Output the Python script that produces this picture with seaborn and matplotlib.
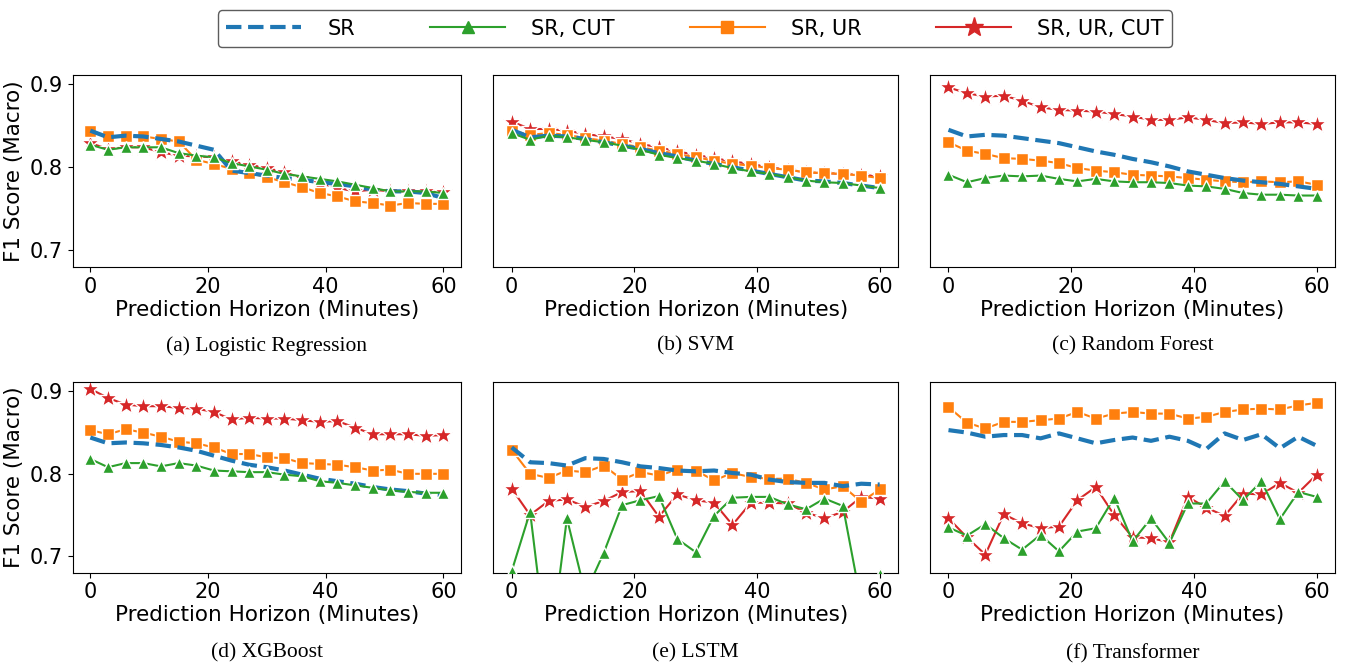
import numpy as np
import pandas as pd
import seaborn as sns
import matplotlib
matplotlib.use("Agg")
import matplotlib.pyplot as plt
from matplotlib.lines import Line2D

# prediction horizon in minutes
horizon = [0, 3, 6, 9, 12, 15, 18, 21, 24, 27, 30, 33, 36, 39, 42, 45, 48, 51, 54, 57, 60]

series_names = ["SR", "SR, CUT", "SR, UR", "SR, UR, CUT"]
model_names = ["(a) Logistic Regression", "(b) SVM", "(c) Random Forest",
               "(d) XGBoost", "(e) LSTM", "(f) Transformer"]

# (a) Logistic Regression
lr_sr = [0.844, 0.836, 0.838, 0.837, 0.834, 0.831, 0.826, 0.821, 0.796, 0.793, 0.790,
         0.787, 0.785, 0.782, 0.780, 0.777, 0.773, 0.771, 0.771, 0.769, 0.763]
lr_sr_cut = [0.827, 0.821, 0.824, 0.824, 0.824, 0.817, 0.814, 0.812, 0.805, 0.801, 0.797,
             0.792, 0.789, 0.786, 0.783, 0.779, 0.775, 0.771, 0.771, 0.771, 0.769]
lr_sr_ur = [0.844, 0.837, 0.838, 0.837, 0.834, 0.831, 0.809, 0.804, 0.798, 0.793, 0.788,
            0.782, 0.776, 0.769, 0.765, 0.759, 0.757, 0.754, 0.757, 0.756, 0.756]
lr_sr_ur_cut = [0.829, 0.822, 0.824, 0.824, 0.818, 0.814, 0.813, 0.812, 0.807, 0.803, 0.799,
                0.794, 0.787, 0.781, 0.775, 0.771, 0.773, 0.771, 0.771, 0.771, 0.770]

# (b) SVM
svm_sr = [0.845, 0.836, 0.838, 0.837, 0.834, 0.830, 0.826, 0.822, 0.817, 0.813, 0.808,
          0.804, 0.800, 0.796, 0.792, 0.788, 0.784, 0.783, 0.781, 0.778, 0.775]
svm_sr_cut = [0.841, 0.833, 0.838, 0.836, 0.833, 0.830, 0.826, 0.821, 0.815, 0.811, 0.808,
              0.804, 0.799, 0.795, 0.792, 0.788, 0.784, 0.782, 0.781, 0.778, 0.775]
svm_sr_ur = [0.844, 0.839, 0.841, 0.839, 0.835, 0.832, 0.828, 0.824, 0.820, 0.816, 0.812,
             0.808, 0.804, 0.802, 0.799, 0.797, 0.794, 0.793, 0.792, 0.790, 0.787]
svm_sr_ur_cut = [0.855, 0.846, 0.846, 0.844, 0.840, 0.837, 0.834, 0.828, 0.824, 0.819, 0.815,
                 0.811, 0.807, 0.804, 0.800, 0.797, 0.794, 0.793, 0.792, 0.791, 0.789]

# (c) Random Forest
rf_sr = [0.845, 0.837, 0.839, 0.838, 0.835, 0.832, 0.829, 0.824, 0.819, 0.815, 0.810,
         0.806, 0.801, 0.795, 0.791, 0.787, 0.784, 0.782, 0.780, 0.777, 0.774]
rf_sr_cut = [0.791, 0.782, 0.787, 0.790, 0.789, 0.790, 0.786, 0.783, 0.786, 0.783, 0.782,
             0.782, 0.781, 0.778, 0.777, 0.774, 0.769, 0.767, 0.767, 0.766, 0.766]
rf_sr_ur = [0.830, 0.820, 0.816, 0.811, 0.810, 0.808, 0.805, 0.799, 0.796, 0.794, 0.791,
            0.790, 0.789, 0.787, 0.785, 0.783, 0.782, 0.783, 0.782, 0.783, 0.779]
rf_sr_ur_cut = [0.896, 0.889, 0.885, 0.886, 0.880, 0.872, 0.869, 0.868, 0.867, 0.864, 0.861,
                0.857, 0.857, 0.860, 0.857, 0.853, 0.854, 0.852, 0.854, 0.854, 0.852]

# (d) XGBoost
xgb_sr = [0.844, 0.837, 0.838, 0.837, 0.835, 0.832, 0.828, 0.822, 0.816, 0.811, 0.808,
          0.804, 0.799, 0.794, 0.791, 0.788, 0.784, 0.781, 0.779, 0.776, 0.774]
xgb_sr_cut = [0.818, 0.808, 0.813, 0.813, 0.809, 0.813, 0.810, 0.804, 0.803, 0.802, 0.802,
              0.799, 0.797, 0.791, 0.789, 0.786, 0.783, 0.780, 0.778, 0.777, 0.777]
xgb_sr_ur = [0.853, 0.848, 0.854, 0.850, 0.845, 0.839, 0.837, 0.832, 0.824, 0.824, 0.820,
             0.819, 0.813, 0.812, 0.811, 0.808, 0.804, 0.805, 0.800, 0.800, 0.800]
xgb_sr_ur_cut = [0.903, 0.892, 0.884, 0.882, 0.882, 0.880, 0.879, 0.875, 0.866, 0.868, 0.867,
                 0.867, 0.865, 0.863, 0.864, 0.856, 0.848, 0.848, 0.848, 0.846, 0.847]

# (e) LSTM
lstm_sr = [0.832, 0.814, 0.813, 0.810, 0.819, 0.818, 0.814, 0.809, 0.807, 0.804, 0.803,
           0.804, 0.801, 0.799, 0.793, 0.790, 0.789, 0.789, 0.785, 0.788, 0.787]
lstm_sr_cut = [0.682, 0.754, 0.570, 0.746, 0.655, 0.704, 0.762, 0.768, 0.773, 0.721, 0.705,
               0.749, 0.771, 0.772, 0.772, 0.763, 0.757, 0.770, 0.761, 0.643, 0.678]
lstm_sr_ur = [0.829, 0.800, 0.795, 0.804, 0.802, 0.810, 0.793, 0.802, 0.798, 0.805, 0.804,
              0.792, 0.801, 0.796, 0.794, 0.794, 0.789, 0.781, 0.785, 0.766, 0.781]
lstm_sr_ur_cut = [0.782, 0.750, 0.767, 0.769, 0.760, 0.767, 0.778, 0.779, 0.748, 0.775, 0.768,
                  0.765, 0.738, 0.765, 0.765, 0.764, 0.753, 0.746, 0.754, 0.772, 0.770]

# (f) Transformer
tf_sr = [0.853, 0.850, 0.845, 0.847, 0.847, 0.843, 0.849, 0.843, 0.837, 0.841, 0.844,
         0.840, 0.845, 0.840, 0.830, 0.849, 0.841, 0.848, 0.831, 0.845, 0.834]
tf_sr_cut = [0.735, 0.725, 0.739, 0.722, 0.708, 0.726, 0.706, 0.730, 0.734, 0.771, 0.718,
             0.746, 0.716, 0.764, 0.764, 0.791, 0.768, 0.791, 0.745, 0.778, 0.772]
tf_sr_ur = [0.881, 0.862, 0.855, 0.863, 0.863, 0.865, 0.867, 0.875, 0.867, 0.873, 0.875,
            0.873, 0.873, 0.867, 0.869, 0.875, 0.878, 0.879, 0.878, 0.883, 0.886]
tf_sr_ur_cut = [0.746, 0.723, 0.702, 0.751, 0.740, 0.734, 0.736, 0.768, 0.784, 0.750, 0.723,
                0.722, 0.717, 0.772, 0.759, 0.749, 0.776, 0.775, 0.789, 0.777, 0.799]

panels = [
    [lr_sr, lr_sr_cut, lr_sr_ur, lr_sr_ur_cut],
    [svm_sr, svm_sr_cut, svm_sr_ur, svm_sr_ur_cut],
    [rf_sr, rf_sr_cut, rf_sr_ur, rf_sr_ur_cut],
    [xgb_sr, xgb_sr_cut, xgb_sr_ur, xgb_sr_ur_cut],
    [lstm_sr, lstm_sr_cut, lstm_sr_ur, lstm_sr_ur_cut],
    [tf_sr, tf_sr_cut, tf_sr_ur, tf_sr_ur_cut],
]

# style per series: color, marker, markersize, linestyle, linewidth, zorder
styles = {
    "SR": dict(color="#1f77b4", marker=None, ms=0, ls="--", lw=3.0, z=4),
    "SR, CUT": dict(color="#2ca02c", marker="^", ms=9, ls="-", lw=1.5, z=5),
    "SR, UR": dict(color="#ff7f0e", marker="s", ms=9, ls="-", lw=1.5, z=3),
    "SR, UR, CUT": dict(color="#d62728", marker="*", ms=14, ls="-", lw=1.5, z=2),
}

fig = plt.figure(figsize=(13.46, 6.66), dpi=100)

# axes boxes in figure fractions [left, bottom, width, height]
boxes = [
    [0.054, 0.599, 0.2885, 0.2885],
    [0.3665, 0.599, 0.3007, 0.2885],
    [0.691, 0.599, 0.3009, 0.2885],
    [0.054, 0.140, 0.2885, 0.286],
    [0.3665, 0.140, 0.3007, 0.286],
    [0.691, 0.140, 0.3009, 0.286],
]

for i, (box, values) in enumerate(zip(boxes, panels)):
    ax = fig.add_axes(box)
    for name, vals in zip(series_names, values):
        st = styles[name]
        df = pd.DataFrame({"horizon": horizon, "f1": vals})
        kw = dict(color=st["color"], linestyle=st["ls"], linewidth=st["lw"], zorder=st["z"])
        if st["marker"]:
            kw.update(marker=st["marker"], markersize=st["ms"], markeredgewidth=1.0)
        sns.lineplot(data=df, x="horizon", y="f1", ax=ax, legend=False, **kw)
    ax.set_ylim(0.68, 0.911)
    ax.set_xticks([0, 20, 40, 60])
    ax.tick_params(labelsize=15)
    ax.set_xlabel("Prediction Horizon (Minutes)", fontsize=15.5, labelpad=2)
    if i % 3 == 0:
        ax.set_yticks([0.7, 0.8, 0.9])
        ax.set_ylabel("F1 Score (Macro)", fontsize=15.5)
    else:
        ax.set_yticks([])
        ax.set_ylabel("")
    cap_y = 0.481 if i < 3 else 0.019
    fig.text(box[0] + box[2] / 2, cap_y, model_names[i], ha="center", va="center",
             fontsize=15.5, family="Liberation Serif")

handles = []
for name in series_names:
    st = styles[name]
    handles.append(Line2D([], [], color=st["color"], linestyle=st["ls"], linewidth=st["lw"],
                          marker=st["marker"], markersize=st["ms"]))
fig.legend(handles, series_names, loc="upper center", bbox_to_anchor=(0.5165, 1.0), ncol=4,
           fontsize=15, columnspacing=3.6, handlelength=3.6, handletextpad=1.25,
           frameon=True, edgecolor="#333333")

fig.savefig("out.png", dpi=100)
